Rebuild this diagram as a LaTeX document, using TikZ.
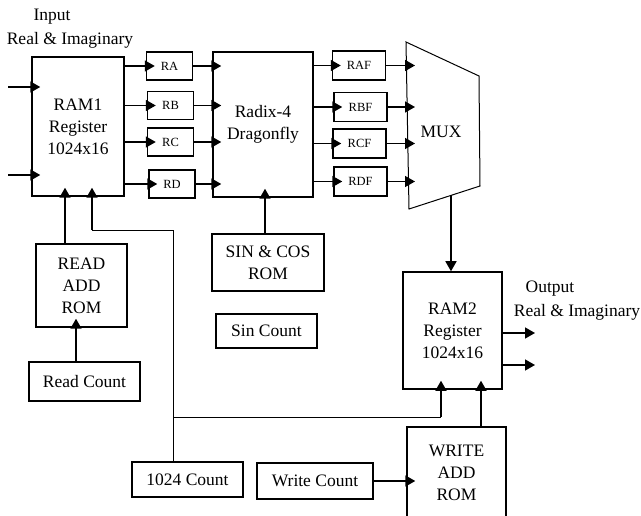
\documentclass[tikz,border=0pt]{standalone}
\usepackage{fontspec}
\setmainfont{Liberation Serif}
\usetikzlibrary{arrows.meta}

\begin{document}
\begin{tikzpicture}[
  x=1pt, y=-1pt,
  font=\fontsize{17.5}{22}\selectfont,
  box/.style={rectangle, draw, line width=1.5pt, inner sep=0pt, align=center},
  reg/.style={box, minimum width=46pt, minimum height=28pt, font=\fontsize{12.5}{15}\selectfont},
  regf/.style={reg, minimum width=53pt, minimum height=29pt},
  arr/.style={-{Triangle[length=10pt, width=11pt]}, line width=1.5pt, shorten >=-9pt},
  outarr/.style={arr, shorten >=0pt},
  wire/.style={line width=0.9pt},
]
\useasboundingbox (0,0) rectangle (641,516);

\node[box, minimum width=92pt, minimum height=139pt] (ram1) at (78,126.5) {RAM1\\Register\\1024x16};
\node[reg] (ra) at (169.5,66) {RA};
\node[reg] (rb) at (170.5,105.5) {RB};
\node[reg] (rc) at (170.5,142) {RC};
\node[reg] (rd) at (172,184) {RD};
\node[box, minimum width=100pt, minimum height=145pt] (radix) at (263,124.5) {Radix-4\\Dragonfly};
\node[regf] (raf) at (359,65.5) {RAF};
\node[regf] (rbf) at (360.5,107) {RBF};
\node[regf] (rcf) at (359.5,143.5) {RCF};
\node[regf] (rdf) at (360.5,181.5) {RDF};

\draw[line width=1pt] (406,42) coordinate (m1) -- (479,76) -- (480,186) -- (409,209) coordinate (m4) -- cycle;
\node (mux) at (441,132) {MUX};

\node[box, minimum width=99pt, minimum height=117pt] (ram2) at (452.5,330.5) {RAM2\\Register\\1024x16};
\node[box, minimum width=91pt, minimum height=83pt] (readrom) at (81.5,285.5) {READ\\ADD\\ROM};
\node[box, minimum width=111pt, minimum height=39pt] (readcnt) at (84.5,381.5) {Read Count};
\node[box, minimum width=112pt, minimum height=57pt] (sincos) at (268,262.5) {SIN \& COS\\ROM};
\node[box, minimum width=101pt, minimum height=34pt] (sincnt) at (266.5,331) {Sin Count};
\node[box, minimum width=111pt, minimum height=35pt] (cnt1024) at (187.5,479.5) {1024 Count};
\node[box, minimum width=116pt, minimum height=36pt] (wcnt) at (315,481) {Write Count};
\node[box, minimum width=99pt, minimum height=92pt] (wrom) at (456.5,473) {WRITE\\ADD\\ROM};

\node (inlab) at (52,17) {Input};
\node (inlab2) at (70,40) {Real \& Imaginary};
\node (outlab) at (550,289) {Output};
\node (outlab2) at (577,312) {Real \& Imaginary};

\coordinate (in1) at (8,87);
\coordinate (in2) at (8,175);
\draw[arr] (in1) -- (in1 -| ram1.west);
\draw[arr] (in2) -- (in2 -| ram1.west);

\foreach \r in {ra,rb,rc,rd} {
  \draw[arr] (ram1.east |- \r) -- (\r.west);
  \draw[arr] (\r.east) -- (\r.east -| radix.west);
}
\foreach \r in {raf,rbf,rcf,rdf} {
  \draw[arr] (radix.east |- \r) -- (\r.west);
  \draw[arr] (\r.east) -- (\r.east -| m1);
}

\coordinate (mo) at (451,195.4);
\draw[outarr] (mo) -- (mo |- ram2.north);
\coordinate (out1) at (535,333);
\coordinate (out2) at (535,365);
\draw[outarr] (out1 -| ram2.east) -- (out1);
\draw[outarr] (out2 -| ram2.east) -- (out2);

\coordinate (rr) at ([xshift=-16.5pt]readrom.north);
\draw[arr] (rr) -- (rr |- ram1.south);
\coordinate (rc1) at ([xshift=-8.5pt]readcnt.north);
\draw[arr] (rc1) -- (rc1 |- readrom.south);
\coordinate (sc) at ([xshift=-3pt]sincos.north);
\draw[arr] (sc) -- (sc |- radix.south);

\coordinate (j1) at (173,230);
\coordinate (j2) at (92,230);
\coordinate (j3) at (173,417);
\coordinate (j4) at (441,417);
\draw[wire] (cnt1024.north -| j1) -- (j1) -- (j2);
\draw[arr] (j2) -- (j2 |- ram1.south);
\draw[wire] (j3) -- (j4);
\draw[arr] (j4) -- (j4 |- ram2.south);

\draw[arr] (wcnt.east) -- (wcnt.east -| wrom.west);
\coordinate (wr) at ([xshift=24.5pt]wrom.north);
\draw[arr] (wr) -- (wr |- ram2.south);
\end{tikzpicture}
\end{document}
